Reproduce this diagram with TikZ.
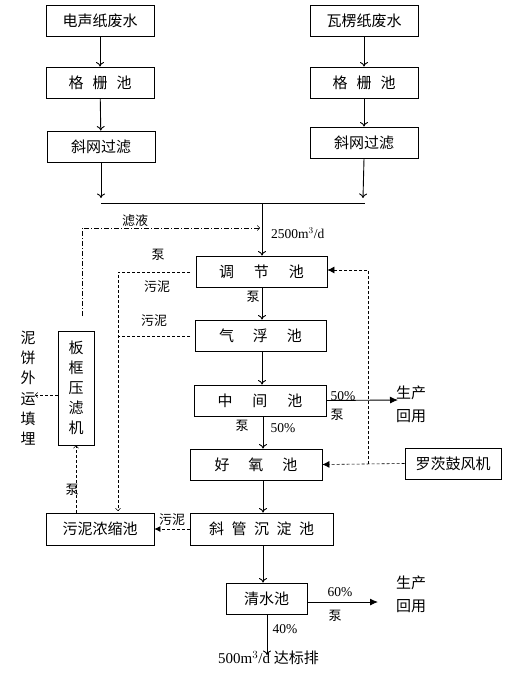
\documentclass[tikz,border=0pt]{standalone}
\usepackage{fontspec}
\setmainfont{Liberation Serif}
\newfontfamily\cjk{Noto Sans CJK SC}
\usetikzlibrary{arrows.meta}
\begin{document}
\begin{tikzpicture}[x=1pt,y=-1pt,
  box/.style={draw, line width=0.9pt, inner sep=0pt, minimum height=31pt, font=\cjk\fontsize{15}{17}\selectfont},
  lbl/.style={inner sep=0pt, font=\cjk\fontsize{13}{15}\selectfont},
  num/.style={inner sep=0pt, font=\fontsize{13.5}{15}\selectfont},
  flow/.style={line width=0.9pt, -{To[length=4.5pt,width=8pt]}},
  plain/.style={line width=0.9pt},
  fill arrow/.style={-{Latex[length=8pt,width=7pt]}},
  dsh/.style={dashed, dash pattern=on 3pt off 2pt, line width=0.6pt},
  dshdot/.style={dash pattern=on 5pt off 2pt on 1pt off 2pt, line width=0.6pt},
  openhead/.style={-{To[length=3pt,width=5.5pt]}}
]
\useasboundingbox (0,0) rectangle (524,682);

% boxes
\node[box, minimum width=108pt] (src1) at (100,20.5) {电声纸废水};
\node[box, minimum width=108pt] (grid1) at (100,82.5) {格\hspace{9pt}栅\hspace{9pt}池};
\node[box, minimum width=108pt] (filt1) at (101,146.5) {斜网过滤};
\node[box, minimum width=108pt] (src2) at (364,20.5) {瓦楞纸废水};
\node[box, minimum width=108pt] (grid2) at (364,82.5) {格\hspace{9pt}栅\hspace{9pt}池};
\node[box, minimum width=108pt] (filt2) at (364,142.5) {斜网过滤};
\node[box, minimum width=131pt] (tj) at (261.5,271.5) {调\hspace{20pt}节\hspace{20pt}池};
\node[box, minimum width=131pt] (qf) at (260.5,335.5) {气\hspace{19pt}浮\hspace{19pt}池};
\node[box, minimum width=132pt] (zj) at (260,400.5) {中\hspace{20pt}间\hspace{20pt}池};
\node[box, minimum width=132pt] (hy) at (256,464.5) {好\hspace{19pt}氧\hspace{19pt}池};
\node[box, minimum width=96pt] (lc) at (453,463.5) {罗茨鼓风机};
\node[box, minimum width=143pt, minimum height=32pt] (xg) at (261.5,529) {斜\hspace{7.5pt}管\hspace{7.5pt}沉\hspace{7.5pt}淀\hspace{7.5pt}池};
\node[box, minimum width=108pt, minimum height=32pt] (ns) at (100,529) {污泥浓缩池};
\node[box, minimum width=36pt, minimum height=114pt, align=center, font=\cjk\fontsize{15}{20}\selectfont] (bk) at (76,388) {板\\框\\压\\滤\\机};
\node[box, minimum width=81pt] (qs) at (266.5,598.5) {清水池};

% coordinates
\coordinate (a1) at (101,198);
\coordinate (a2) at (363,198);
\coordinate (h1) at (101,203);
\coordinate (h2) at (365,203);
\coordinate (m) at (262,203);
\coordinate (f0) at (82,316);
\coordinate (f1) at (260,228);
\coordinate (s0) at (190,272);
\coordinate (s1) at (118,511);
\coordinate (s2) at (190,336);
\coordinate (s3) at (118,336);
\coordinate (r1) at (398,400);
\coordinate (b0) at (368,464);
\coordinate (b1) at (368,270);
\coordinate (c1) at (35,395);
\coordinate (r2) at (378,602);
\coordinate (d1) at (267,655);

% main flow
\draw[flow] (src1) -- (grid1);
\draw[flow] (grid1) -- (filt1);
\draw[flow] (filt1.south) -- (a1);
\draw[flow] (src2) -- (grid2);
\draw[flow] (grid2) -- (filt2);
\draw[flow] (filt2.south) -- (a2);
\draw[plain] (h1) -- (h2);
\draw[flow] (m) -- (tj.north -| m);
\draw[flow] (tj.south -| m) -- (qf.north -| m);
\draw[flow] (qf.south -| m) -- (zj.north -| m);
\draw[flow] ([xshift=3pt]zj.south) -- ([xshift=7pt]hy.north);
\draw[flow] ([xshift=7pt]hy.south) -- ([xshift=1.5pt]xg.north);
\draw[flow] ([xshift=1.5pt]xg.south) -- ([xshift=-3.5pt]qs.north);
\draw[plain, fill arrow] (zj.east) -- (r1);
\draw[plain, fill arrow] (qs.east |- r2) -- (r2);
\draw[flow] ([xshift=0.5pt]qs.south) -- (d1);

% filtrate return
\draw[dshdot, openhead] (f0) |- (f1);

% sludge lines
\draw[dsh, openhead] (s0) -| (s1);
\draw[dsh] (s2) -- (s3);
\draw[dsh, -{Latex[length=6pt,width=6pt]}] (xg.west) -- (ns.east);
\draw[dsh, openhead] (ns.north -| bk) -- (bk.south);
\draw[dsh, openhead] (bk.west |- c1) -- (c1);

% air
\draw[dsh, -{Latex[length=7pt,width=7pt]}] (lc.west) -- (hy.east);
\draw[dsh, -{Latex[length=7pt,width=7pt]}] (b0) -- (b1) -- (tj.east |- b1);

% labels
\node[lbl] (l1) at (135,221) {滤液};
\node[num, anchor=west] (l2) at (271,233) {2500m$^{3}$/d};
\node[lbl] (l3) at (158,255) {泵};
\node[lbl] (l4) at (157,287) {污泥};
\node[lbl] (l5) at (253,297) {泵};
\node[lbl] (l6) at (154,321) {污泥};
\node[num] (l7) at (343,396) {50\%};
\node[lbl, align=left, font=\cjk\fontsize{15}{23}\selectfont] (l8) at (411,404) {生产\\回用};
\node[lbl] (l9) at (337,415) {泵};
\node[lbl] (l10) at (242,426) {泵};
\node[num] (l11) at (283,428) {50\%};
\node[lbl] (l12) at (172,520) {污泥};
\node[lbl] (l13) at (72,490) {泵};
\node[lbl, align=center, font=\cjk\fontsize{15}{20.3}\selectfont] (l14) at (28,388) {泥\\饼\\外\\运\\填\\埋};
\node[num] (l15) at (340,592) {60\%};
\node[lbl] (l16) at (335,616) {泵};
\node[lbl, align=left, font=\cjk\fontsize{15}{23}\selectfont] (l17) at (411,594) {生产\\回用};
\node[num] (l18) at (285,629) {40\%};
\node[inner sep=0pt] (l19) at (268.5,658) {\fontsize{15}{17}\selectfont 500m$^{3}$/d {\cjk 达标排}};
\end{tikzpicture}
\end{document}
